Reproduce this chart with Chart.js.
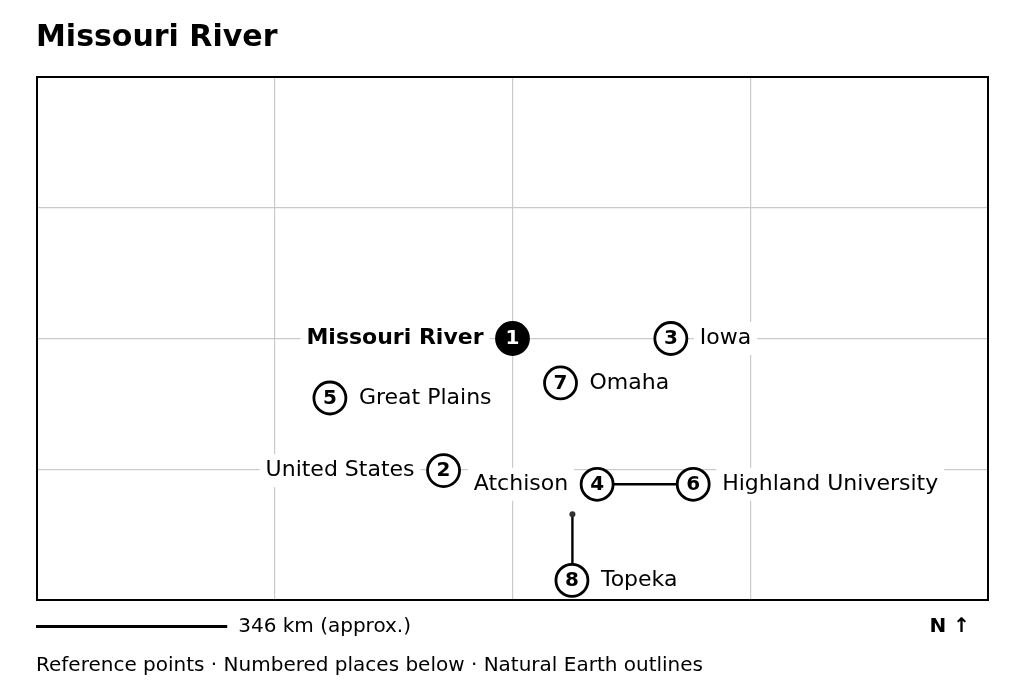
<!DOCTYPE html>
<html>
<head>
<meta charset="utf-8">
<style>html,body{margin:0;padding:0;background:#fff}canvas{display:block}</style>
<script src="https://cdn.jsdelivr.net/npm/chart.js@4"></script>
</head>
<body>
<canvas id="c" width="1024" height="692"></canvas>
<script>
const titleText = "Missouri River";
const placeNames = ["Missouri River","United States","Iowa","Atchison","Great Plains","Highland University","Omaha","Topeka"];
const placeLon = [-97,-98.45,-93.67,-95.22,-100.84,-93.2,-95.99,-95.75];
const placeLat = [42,39.98,42,39.77,41.09,39.77,41.32,38.3];
const labelOnLeft = [true,true,false,true,false,false,false,false];
const leaderLon = [-95.22,-93.2];
const leaderLat = [39.77,39.77];
const topekaLeaderLon = [-95.74,-95.74];
const topekaLeaderLat = [39.31,38.3];
const xTicks = [-107,-102,-97,-92,-87];
const yTicks = [38,40,42,44,46];
const scaleBarDegrees = 4;
const scaleText = "346 km (approx.)";
const northBold = "N ↑";
const footText = "Reference points · Numbered places below · Natural Earth outlines";

const FONT = '"DejaVu Sans"';
const LABEL_PX = 22, NUM_PX = 20, OFFSET = 29, PAD = 6, HALO_H = 33;

function labelFont(i){ return (i===0?'bold ':'')+LABEL_PX+'px '+FONT; }
function labelBox(ctx,chart,i){
  const x = chart.scales.x.getPixelForValue(placeLon[i]);
  const y = chart.scales.y.getPixelForValue(placeLat[i]);
  ctx.font = labelFont(i);
  const w = ctx.measureText(placeNames[i]).width;
  const tx = labelOnLeft[i] ? x-OFFSET-w : x+OFFSET;
  return {x,y,w,tx};
}
const mapPlugin = {
  id:'mapPlugin',
  beforeDatasetsDraw(chart){
    const ctx = chart.ctx;
    ctx.save();
    ctx.fillStyle = '#fff';
    placeNames.forEach((n,i)=>{
      const b = labelBox(ctx,chart,i);
      ctx.fillRect(b.tx-PAD,b.y-HALO_H/2,b.w+2*PAD,HALO_H);
    });
    ctx.restore();
  },
  afterDatasetsDraw(chart){
    const ctx = chart.ctx, a = chart.chartArea;
    ctx.save();
    ctx.textBaseline = 'middle';
    placeNames.forEach((n,i)=>{
      const b = labelBox(ctx,chart,i);
      ctx.fillStyle = '#000';
      ctx.textAlign = 'left';
      ctx.font = labelFont(i);
      ctx.fillText(n,b.tx,b.y);
      ctx.font = 'bold '+NUM_PX+'px '+FONT;
      ctx.textAlign = 'center';
      ctx.fillStyle = i===0 ? '#fff' : '#000';
      ctx.fillText(String(i+1),b.x,b.y+0.5);
    });
    ctx.strokeStyle = '#000';
    ctx.lineWidth = 2;
    ctx.strokeRect(a.left,a.top,a.right-a.left,a.bottom-a.top);
    // scale bar
    const sx = chart.scales.x;
    const barLen = sx.getPixelForValue(xTicks[0]+scaleBarDegrees)-sx.getPixelForValue(xTicks[0]);
    const barY = a.bottom+26.5;
    ctx.lineWidth = 3;
    ctx.beginPath();ctx.moveTo(a.left-1,barY);ctx.lineTo(a.left+barLen,barY);ctx.stroke();
    ctx.fillStyle = '#000';
    ctx.textAlign = 'left';
    ctx.font = '20px '+FONT;
    ctx.fillText(scaleText,a.left+barLen+11,barY);
    ctx.fillText(footText,a.left-1,a.bottom+65.5);
    ctx.textAlign = 'right';
    ctx.font = 'bold 20px '+FONT;
    ctx.fillText(northBold,970,barY);
    ctx.restore();
  }
};
new Chart(document.getElementById('c'),{
  type:'scatter',
  data:{datasets:[
    {data:leaderLon.map((v,i)=>({x:v,y:leaderLat[i]})),showLine:true,borderColor:'#000',borderWidth:2.4,pointRadius:0,order:3},
    {data:topekaLeaderLon.map((v,i)=>({x:v,y:topekaLeaderLat[i]})),showLine:true,borderColor:'#000',borderWidth:2.4,
      pointRadius:[3,0],pointBackgroundColor:'#333',pointBorderColor:'#333',pointBorderWidth:0,order:2},
    {data:placeLon.map((v,i)=>({x:v,y:placeLat[i]})),showLine:false,pointStyle:'circle',pointRadius:16,pointBorderWidth:2.8,
      pointBorderColor:'#000',pointBackgroundColor:placeNames.map((n,i)=>i===0?'#000':'#fff'),order:1}
  ]},
  options:{
    responsive:false,animation:false,devicePixelRatio:1,
    layout:{padding:{left:36,right:36,top:0,bottom:92}},
    plugins:{legend:{display:false},tooltip:{enabled:false},
      title:{display:true,text:titleText,align:'start',color:'#000',
        font:{family:FONT,size:30,weight:'bold'},padding:{top:20,bottom:21}}},
    scales:{
      x:{type:'linear',min:xTicks[0],max:xTicks[xTicks.length-1],
        afterBuildTicks(s){s.ticks=xTicks.map(v=>({value:v}));},
        ticks:{display:false},border:{display:false},grid:{color:'#cacaca',lineWidth:1.2,drawTicks:false}},
      y:{type:'linear',min:yTicks[0],max:yTicks[yTicks.length-1],
        afterFit(s){s.width=1;},
        afterBuildTicks(s){s.ticks=yTicks.map(v=>({value:v}));},
        ticks:{display:false},border:{display:false},grid:{color:'#cacaca',lineWidth:1.2,drawTicks:false}}
    }
  },
  plugins:[mapPlugin]
});
</script>
</body>
</html>
